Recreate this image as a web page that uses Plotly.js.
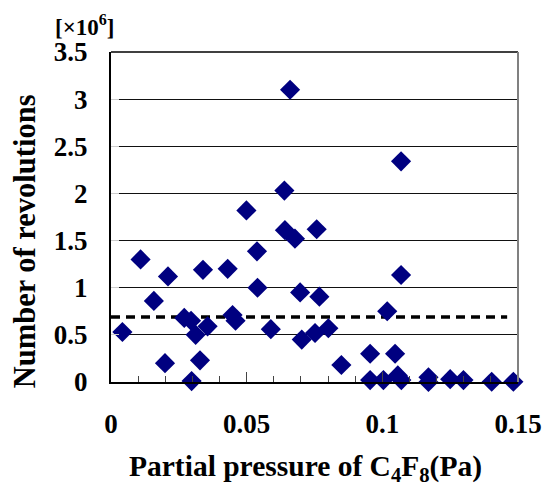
<!DOCTYPE html>
<html>
<head>
<meta charset="utf-8">
<script src="https://cdn.plot.ly/plotly-3.0.1.min.js"></script>
<style>html,body{margin:0;padding:0;background:#fff;}#chart{width:546px;height:486px;}</style>
</head>
<body>
<div id="chart"></div>
<script>
// Partial pressure of C4F8 (Pa)
const pressure = [0.0042, 0.0109, 0.0158, 0.021, 0.0199, 0.027, 0.0295, 0.0312, 0.0328, 0.0297,
  0.0356, 0.0339, 0.043, 0.0448, 0.0459, 0.0499, 0.0538, 0.054, 0.0589, 0.0639,
  0.0641, 0.0678, 0.0758, 0.066, 0.0697, 0.0768, 0.0703, 0.0752, 0.0801, 0.0849,
  0.0955, 0.1047, 0.0955, 0.1004, 0.1057, 0.107, 0.1018, 0.1069, 0.1069, 0.117,
  0.117, 0.125, 0.1299, 0.1403, 0.1483];
// Number of revolutions (x10^6)
const revolutions = [0.53, 1.30, 0.86, 1.12, 0.20, 0.68, 0.65, 0.50, 0.23, 0.01,
  0.59, 1.19, 1.20, 0.71, 0.65, 1.82, 1.386, 1.00, 0.56, 2.03,
  1.61, 1.52, 1.62, 3.10, 0.95, 0.905, 0.45, 0.52, 0.57, 0.18,
  0.30, 0.30, 0.02, 0.02, 0.07, 0.02, 0.75, 1.135, 2.34, 0.05,
  0.0, 0.03, 0.02, 0.003, 0.003];
// Dashed reference level
const refLevel = 0.69;
const refRange = [0, 0.146];

const xTickVals = [0, 0.05, 0.1, 0.15];
const xTickText = ['0', '0.05', '0.1', '0.15'];
const yTickVals = [0, 0.5, 1, 1.5, 2, 2.5, 3, 3.5];
const yTickText = ['0', '0.5', '1', '1.5', '2', '2.5', '3', '3.5'];

const serif = 'Liberation Serif, Times New Roman, serif';

const traces = [
  {
    x: refRange, y: [refLevel, refLevel], mode: 'lines', type: 'scatter',
    line: {color: '#000', width: 3.5, dash: '9px,6px'}, hoverinfo: 'skip', showlegend: false
  },
  {
    x: pressure, y: revolutions, mode: 'markers', type: 'scatter',
    marker: {symbol: 'diamond', size: 15.5, color: '#000080', line: {width: 0}},
    cliponaxis: false, showlegend: false
  }
];

const layout = {
  width: 546, height: 486,
  margin: {l: 111, r: 28, t: 52, b: 104},
  paper_bgcolor: '#fff', plot_bgcolor: '#fff',
  showlegend: false,
  xaxis: {
    range: [0, 0.15], tickvals: xTickVals, ticktext: xTickText,
    showgrid: false, zeroline: false,
    showline: true, linecolor: '#000', linewidth: 2,
    ticks: 'inside', ticklen: 10, tickcolor: '#444', tickwidth: 1,
    minor: {dtick: 0.01, ticks: 'inside', ticklen: 6, tickcolor: '#444', tickwidth: 1, showgrid: false},
    tickfont: {family: serif, size: 27, color: '#000', weight: 'bold'},
    ticklabelstandoff: 17
  },
  yaxis: {
    range: [0, 3.5], tickvals: yTickVals, ticktext: yTickText,
    showgrid: true, gridcolor: '#111', gridwidth: 1, zeroline: false,
    showline: true, linecolor: '#000', linewidth: 2,
    ticks: 'inside', ticklen: 8, tickcolor: '#ccc',
    tickfont: {family: serif, size: 27, color: '#000', weight: 'bold'},
    ticklabelstandoff: 16
  },
  shapes: [
    {type: 'line', xref: 'paper', yref: 'paper', x0: 0, x1: 1, y0: 1, y1: 1, line: {color: '#000', width: 1.5}},
    {type: 'line', xref: 'paper', yref: 'paper', x0: 1, x1: 1, y0: 0, y1: 1, line: {color: '#808080', width: 2}}
  ],
  annotations: [
    {text: 'Partial pressure of C<sub>4</sub>F<sub>8</sub>(Pa)', xref: 'paper', yref: 'paper',
     x: 0.479, y: -0.262, xanchor: 'center', yanchor: 'middle', showarrow: false,
     font: {family: serif, size: 29.5, color: '#000', weight: 'bold'}},
    {text: 'Number of revolutions', xref: 'paper', yref: 'paper',
     x: -0.211, y: 0.427, xanchor: 'center', yanchor: 'middle', textangle: -90, showarrow: false,
     font: {family: serif, size: 30.5, color: '#000', weight: 'bold'}},
    {text: '[×10<sup>6</sup>]', xref: 'paper', yref: 'paper',
     x: -0.064, y: 1.08, xanchor: 'center', yanchor: 'middle', showarrow: false,
     font: {family: serif, size: 23, color: '#000', weight: 'bold'}}
  ]
};

Plotly.newPlot('chart', traces, layout, {displayModeBar: false, staticPlot: true});
</script>
</body>
</html>
